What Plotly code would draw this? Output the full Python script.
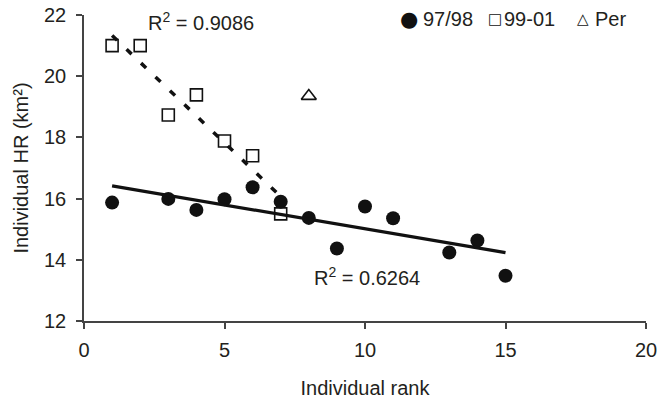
import numpy as np
import plotly.graph_objects as go

# ---- data ----
rank_9798 = [1, 3, 4, 5, 6, 7, 8, 9, 10, 11, 13, 14, 15]
hr_9798 = [15.87, 15.99, 15.63, 15.98, 16.37, 15.90, 15.37, 14.37, 15.74, 15.36, 14.24, 14.63, 13.48]
rank_9901 = [1, 2, 3, 4, 5, 6, 7]
hr_9901 = [21.00, 21.00, 18.73, 19.39, 17.88, 17.40, 15.50]
rank_per = [8]
hr_per = [19.35]
r2_9798 = "0.6264"
r2_9901 = "0.9086"
x_ticks = [0, 5, 10, 15, 20]
y_ticks = [12, 14, 16, 18, 20, 22]


def trend(x, y):
    k, b = np.polyfit(x, y, 1)
    xs = [min(x), max(x)]
    return xs, [k * v + b for v in xs]


FONT = "Liberation Sans, Arial, sans-serif"
TXT = "#231f20"
INK = "#111111"
AX = "#444444"

fig = go.Figure()

fig.add_trace(go.Scatter(x=rank_9798, y=hr_9798, mode="markers", name="97/98",
                         marker=dict(symbol="circle", size=14, color=INK, line=dict(width=0))))
fig.add_trace(go.Scatter(x=rank_9901, y=hr_9901, mode="markers", name="99-01",
                         marker=dict(symbol="square-open", size=12, color=INK, line=dict(width=1.6))))
fig.add_trace(go.Scatter(x=rank_per, y=hr_per, mode="markers", name="Per",
                         marker=dict(symbol="triangle-up-open", size=13, color=INK, line=dict(width=1.6))))

tx, ty = trend(rank_9798, hr_9798)
fig.add_trace(go.Scatter(x=tx, y=ty, mode="lines", showlegend=False,
                         line=dict(color=INK, width=3.2)))
tx2, ty2 = trend(rank_9901, hr_9901)
fig.add_trace(go.Scatter(x=tx2, y=ty2, mode="lines", showlegend=False,
                         line=dict(color=INK, width=3.5, dash="7px,13px")))

W, H = 658, 401
L, R, T, B = 84, 12, 15, 80
pw, ph = W - L - R, H - T - B


def px2paper(x, y):
    return (x - L) / pw, (H - B - y) / ph


annotations = []
# R^2 labels
annotations.append(dict(x=2.2, y=21.8, xref="x", yref="y", xanchor="left", yanchor="middle",
                        text="R<sup>2</sup> = " + r2_9901, showarrow=False,
                        font=dict(family=FONT, size=20, color=TXT)))
annotations.append(dict(x=8.1, y=13.47, xref="x", yref="y", xanchor="left", yanchor="middle",
                        text="R<sup>2</sup> = " + r2_9798, showarrow=False,
                        font=dict(family=FONT, size=20, color=TXT)))

# legend (glyph + label)
LEG_Y = 19
leg_items = [("●", 21, 409, "97/98", 421), ("□", 15, 495, "99-01", 502), ("△", 15, 583, "Per", 593)]
for glyph, gsize, gx, label, lx in leg_items:
    x0, y0 = px2paper(gx, LEG_Y)
    annotations.append(dict(x=x0, y=y0, xref="paper", yref="paper", xanchor="center", yanchor="middle",
                            text=glyph, showarrow=False,
                            font=dict(family="DejaVu Sans", size=gsize, color=INK)))
    x1, y1 = px2paper(lx, LEG_Y)
    annotations.append(dict(x=x1, y=y1, xref="paper", yref="paper", xanchor="left", yanchor="middle",
                            text=label, showarrow=False,
                            font=dict(family=FONT, size=20, color=TXT)))

fig.update_layout(
    width=W, height=H,
    margin=dict(l=L, r=R, t=T, b=B, autoexpand=False),
    paper_bgcolor="white", plot_bgcolor="white",
    showlegend=False,
    font=dict(family=FONT, size=20, color=TXT),
    annotations=annotations,
    xaxis=dict(range=[0, 20], tickvals=x_ticks, showgrid=False, zeroline=False,
               showline=True, linecolor=AX, linewidth=1.5, ticks="outside", ticklen=6,
               tickwidth=1.5, tickcolor=AX, ticklabelstandoff=4, automargin=False,
               title=dict(text="Individual rank", font=dict(size=20), standoff=21)),
    yaxis=dict(range=[12, 22], tickvals=y_ticks, showgrid=False, zeroline=False,
               showline=True, linecolor=AX, linewidth=1.5, ticks="outside", ticklen=6,
               tickwidth=1.5, tickcolor=AX, ticklabelstandoff=6, automargin=False,
               title=dict(text="Individual HR (km²)", font=dict(size=20), standoff=10)),
)

fig.write_html("out.html")
